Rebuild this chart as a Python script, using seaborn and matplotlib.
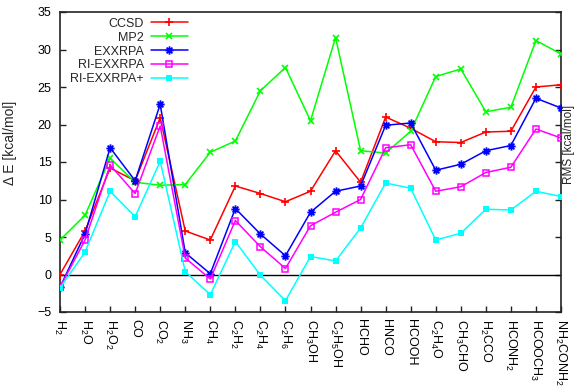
import re
import numpy as np
import pandas as pd
import matplotlib
matplotlib.use("Agg")
import matplotlib.pyplot as plt
from matplotlib.path import Path
import seaborn as sns

# Molecules in the test set (x axis order)
molecules = ['H2', 'H2O', 'H2O2', 'CO', 'CO2', 'NH3', 'CH4', 'C2H2', 'C2H4',
             'C2H6', 'CH3OH', 'C2H5OH', 'HCHO', 'HNCO', 'HCOOH', 'C2H4O',
             'CH3CHO', 'H2CCO', 'HCONH2', 'HCOOCH3', 'NH2CONH2']

# Energy deviations in kcal/mol for each method
ccsd = [0.0, 5.8, 14.2, 12.5, 20.9, 5.8, 4.6, 11.8, 10.8, 9.7, 11.1, 16.5,
        12.3, 21.0, 19.5, 17.7, 17.6, 19.0, 19.1, 25.0, 25.3]
mp2 = [4.6, 7.9, 15.5, 12.3, 11.9, 12.0, 16.3, 17.8, 24.5, 27.6, 20.5, 31.6,
       16.5, 16.2, 19.1, 26.4, 27.4, 21.7, 22.3, 31.2, 29.4]
exxrpa = [-1.7, 5.4, 16.9, 12.5, 22.7, 2.9, 0.1, 8.8, 5.4, 2.5, 8.3, 11.1,
          11.8, 19.9, 20.2, 13.9, 14.7, 16.5, 17.2, 23.5, 22.2]
ri_exxrpa = [-1.7, 4.6, 14.6, 10.8, 19.8, 2.2, -0.6, 7.2, 3.7, 0.8, 6.5, 8.3,
             10.0, 16.9, 17.3, 11.1, 11.7, 13.6, 14.3, 19.4, 18.2]
ri_exxrpa_plus = [-1.8, 3.0, 11.1, 7.7, 15.1, 0.4, -2.7, 4.4, -0.1, -3.5, 2.4,
                  1.8, 6.2, 12.2, 11.5, 4.6, 5.5, 8.7, 8.6, 11.1, 10.4]

methods = ['CCSD', 'MP2', 'EXXRPA', 'RI-EXXRPA', 'RI-EXXRPA+']
colors = ['#ff0000', '#00ff00', '#0000ff', '#ff00ff', '#00ffff']

y_ticks = [-5, 0, 5, 10, 15, 20, 25, 30, 35]

sns.set_style("ticks")
plt.rcParams['font.family'] = ['Liberation Sans', 'DejaVu Sans']
plt.rcParams['mathtext.default'] = 'regular'

# Star marker: a plus overlaid with a cross
star_path = Path(
    [(-1, 0), (1, 0), (0, -1), (0, 1),
     (-0.7, -0.7), (0.7, 0.7), (-0.7, 0.7), (0.7, -0.7)],
    [Path.MOVETO, Path.LINETO] * 4)

marker_styles = {
    'CCSD': dict(marker='+', markersize=6, markeredgewidth=1.2),
    'MP2': dict(marker='x', markersize=5, markeredgewidth=1.2),
    'EXXRPA': dict(marker=star_path, markersize=6, markeredgewidth=1.3),
    'RI-EXXRPA': dict(marker='s', markersize=5, markerfacecolor='none',
                      markeredgewidth=1.1),
    'RI-EXXRPA+': dict(marker='s', markersize=5, markeredgewidth=0),
}

x = np.arange(len(molecules))
df = pd.DataFrame({'pos': x, 'CCSD': ccsd, 'MP2': mp2, 'EXXRPA': exxrpa,
                   'RI-EXXRPA': ri_exxrpa, 'RI-EXXRPA+': ri_exxrpa_plus})

fig = plt.figure(figsize=(5.82, 3.86), dpi=100)
ax = fig.add_axes([60 / 582, 1 - 312 / 386, 501 / 582, 300 / 386])

ax.axhline(0, color='black', linewidth=1.0, zorder=1)

for name, col in zip(methods, colors):
    kw = dict(marker_styles[name])
    kw['markeredgecolor'] = col
    if kw.get('markerfacecolor') != 'none':
        kw['markerfacecolor'] = col
    sns.lineplot(data=df, x='pos', y=name, ax=ax, color=col, linewidth=1.1,
                 label=name, errorbar=None, sort=False, zorder=3, **kw)

ax.set_xlim(0, len(molecules) - 1)
ax.set_ylim(-5, 35)
ax.set_yticks(y_ticks)
ax.set_xticks(x)
tick_labels = [re.sub(r'(\d)', r'$_{\1}$', m) for m in molecules]
ax.set_xticklabels(tick_labels, rotation=-90, ha='center', va='top')

for side in ['left', 'right', 'top', 'bottom']:
    ax.spines[side].set_visible(True)
    ax.spines[side].set_linewidth(1.2)
    ax.spines[side].set_color('#222222')

ax.tick_params(axis='both', direction='in', length=4, width=1.0,
               labelsize=9, colors='#222222', labelcolor='black')
ax.tick_params(axis='y', right=True, pad=6)
ax.tick_params(axis='x', top=False, pad=5)

ax.set_xlabel('')
ax.set_ylabel('Δ E [kcal/mol]', fontsize=10)
ax.yaxis.set_label_coords(-0.085, 0.563)
ax.text(1.016, 0.56, 'RMS [kcal/mol]', transform=ax.transAxes,
        rotation=90, ha='center', va='center', fontsize=8.5)

leg = ax.legend(loc='upper right', bbox_to_anchor=(0.262, 0.993),
                frameon=False, markerfirst=False, fontsize=9,
                handlelength=2.9, handletextpad=0.6, labelspacing=0.15,
                borderpad=0.3, borderaxespad=0.0)

ax.grid(False)
fig.savefig('out.png', dpi=100)
